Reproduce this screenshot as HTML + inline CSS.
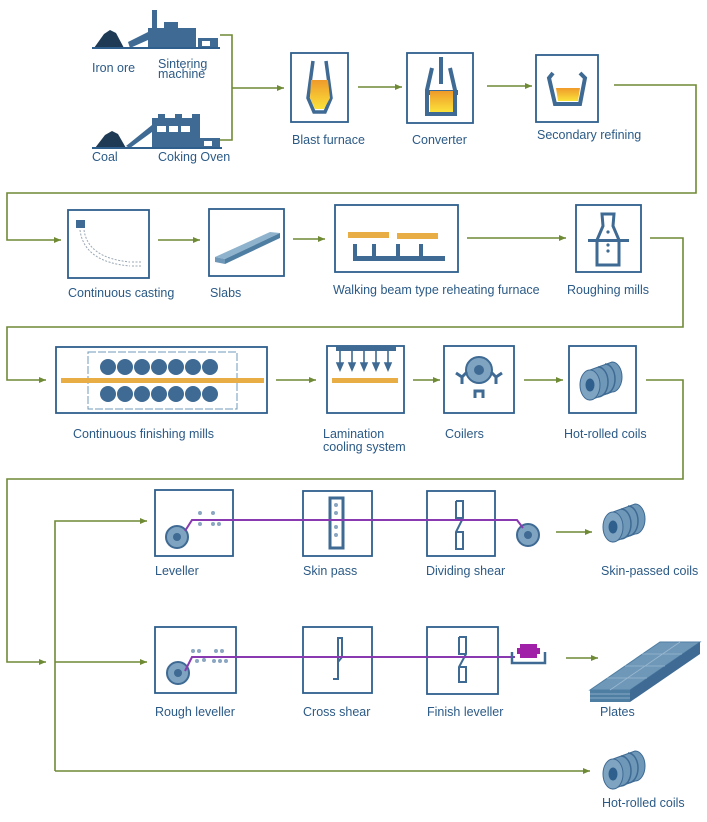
<!DOCTYPE html>
<html><head><meta charset="utf-8"><style>
html,body{margin:0;padding:0;background:#fff;}
svg{display:block;}
text{font-family:"Liberation Sans",sans-serif;font-size:12.5px;fill:#2b5a86;}
</style></head><body>
<svg width="707" height="822" viewBox="0 0 707 822" xmlns="http://www.w3.org/2000/svg">
<defs>
<marker id="a" markerWidth="8" markerHeight="8" refX="7" refY="4" orient="auto" markerUnits="userSpaceOnUse"><path d="M0,1 L7,4 L0,7 z" fill="#6f8a35"/></marker>
<linearGradient id="mol" x1="0" y1="0" x2="0" y2="1"><stop offset="0" stop-color="#ef9a2a"/><stop offset="1" stop-color="#fbe23a"/></linearGradient>
</defs>
<g fill="none" stroke="#6f8a35" stroke-width="1.6">
<path d="M220,35 H232 V140 H220"/>
<path d="M232,88 H284" marker-end="url(#a)"/>
<path d="M358,87 H402" marker-end="url(#a)"/>
<path d="M487,86 H532" marker-end="url(#a)"/>
<path d="M614,85 H696 V193 H7 V240 H61" marker-end="url(#a)"/>
<path d="M158,240 H200" marker-end="url(#a)"/>
<path d="M293,239 H325" marker-end="url(#a)"/>
<path d="M467,238 H566" marker-end="url(#a)"/>
<path d="M650,238 H683 V327 H7 V380 H46" marker-end="url(#a)"/>
<path d="M276,380 H316" marker-end="url(#a)"/>
<path d="M413,380 H440" marker-end="url(#a)"/>
<path d="M524,380 H563" marker-end="url(#a)"/>
<path d="M646,380 H683 V479 H7 V662 H46" marker-end="url(#a)"/>
<path d="M55,771 V521 H147" marker-end="url(#a)"/>
<path d="M55,662 H147" marker-end="url(#a)"/>
<path d="M55,771 H590" marker-end="url(#a)"/>
<path d="M556,532 H592" marker-end="url(#a)"/>
<path d="M566,658 H598" marker-end="url(#a)"/>
</g>
<g fill="#fff" stroke="#2f5f8c" stroke-width="1.8">
<rect x="291" y="53" width="57" height="69"/>
<rect x="407" y="53" width="66" height="70"/>
<rect x="536" y="55" width="62" height="67"/>
<rect x="68" y="210" width="81" height="68"/>
<rect x="209" y="209" width="75" height="67"/>
<rect x="335" y="205" width="123" height="67"/>
<rect x="576" y="205" width="65" height="67"/>
<rect x="56" y="347" width="211" height="66"/>
<rect x="327" y="346" width="77" height="67"/>
<rect x="444" y="346" width="70" height="67"/>
<rect x="569" y="346" width="67" height="67"/>
<rect x="155" y="490" width="78" height="66"/>
<rect x="303" y="491" width="69" height="65"/>
<rect x="427" y="491" width="68" height="65"/>
<rect x="155" y="627" width="81" height="66"/>
<rect x="303" y="627" width="69" height="66"/>
<rect x="427" y="627" width="71" height="67"/>
</g>
<g fill="#1f3a55">
<path d="M94,48 L104,34 L110,30 L116,33 L124,48 z"/>
<path d="M95,148 L105,135 L112,131 L118,134 L126,148 z"/>
</g>
<g fill="#3e6a93">
<path d="M148,48 V28 H152 V10 H157 V28 H164 V22 H178 V28 H196 V48 z"/>
<rect x="198" y="38" width="20" height="10"/>
<path d="M128,42 L148,32 V40 L130,48 z"/>
<path d="M152,148 V118 H158 V114 H165 V118 H175 V114 H182 V118 H192 V114 H200 V148 z"/>
<rect x="200" y="138" width="20" height="10"/>
<path d="M126,146 L152,125 V132 L130,148 z"/>
</g>
<rect x="92" y="47" width="128" height="2" fill="#2f5f8c"/>
<rect x="92" y="147" width="130" height="2" fill="#2f5f8c"/>
<g fill="#fff"><rect x="157" y="126" width="9" height="6"/><rect x="169" y="126" width="9" height="6"/><rect x="181" y="126" width="9" height="6"/><rect x="204" y="141" width="8" height="5"/><rect x="202" y="41" width="8" height="5"/></g>
<!-- blast furnace -->
<path d="M313,61 L308,98 L314,112 H325 L331,98 L326,61" fill="none" stroke="#3e6a93" stroke-width="3.5"/>
<path d="M311,80 H328 L330,98 L324,109 H315 L310,98 z" fill="url(#mol)"/>
<!-- converter -->
<rect x="439" y="57" width="4" height="27" fill="#3e6a93"/>
<path d="M432,68 L427,90 V114 H455 V90 L450,68" fill="none" stroke="#3e6a93" stroke-width="4"/>
<rect x="425" y="90" width="33" height="5" fill="#3e6a93"/>
<rect x="430" y="91" width="23" height="21" fill="url(#mol)"/>
<!-- secondary -->
<path d="M553,73 L549,78 L555,104 H580 L585,78 L580,73" fill="none" stroke="#3e6a93" stroke-width="4"/>
<path d="M556,88 H580 L578,101 H558 z" fill="url(#mol)"/>
<!-- continuous casting -->
<rect x="76" y="220" width="9" height="8" fill="#3e6a93"/>
<path d="M80,230 Q84,262 130,266 M84,230 Q88,258 130,262 M141,262 H131 M141,266 H131" fill="none" stroke="#9aa7b3" stroke-width="1" stroke-dasharray="2,1.5"/>
<!-- slab -->
<path d="M215,257 L270,232 L280,233 L225,259 z" fill="#8fb3cc"/>
<path d="M215,257 L225,259 V264 L215,262 z" fill="#6f98b8"/>
<path d="M225,259 L280,233 V238 L225,264 z" fill="#4f7ea3"/>
<!-- walking beam -->
<rect x="348" y="232" width="41" height="6" fill="#e9ad45"/>
<rect x="397" y="233" width="41" height="6" fill="#e9ad45"/>
<path d="M355,244 V258 M374,244 V258 M398,244 V258 M421,244 V258" stroke="#3e6a93" stroke-width="4"/>
<rect x="353" y="256" width="92" height="5" fill="#3e6a93"/>
<!-- roughing -->
<path d="M602,214 H614 L613,226 L619,240 L619,265 H597 L597,240 L603,226 z" fill="none" stroke="#3e6a93" stroke-width="3"/>
<rect x="588" y="239" width="41" height="3" fill="#3e6a93"/>
<g fill="#3e6a93"><circle cx="608" cy="232" r="1.6"/><circle cx="608" cy="245" r="1.6"/><circle cx="608" cy="251" r="1.6"/></g>
<!-- finishing mills -->
<rect x="88" y="352" width="149" height="57" fill="none" stroke="#6f98b8" stroke-width="1" stroke-dasharray="8,2"/>
<rect x="61" y="378" width="203" height="5" fill="#e9ad45"/>
<g fill="#3e6a93">
<circle cx="108" cy="367" r="8"/><circle cx="125" cy="367" r="8"/><circle cx="142" cy="367" r="8"/><circle cx="159" cy="367" r="8"/><circle cx="176" cy="367" r="8"/><circle cx="193" cy="367" r="8"/><circle cx="210" cy="367" r="8"/>
<circle cx="108" cy="394" r="8"/><circle cx="125" cy="394" r="8"/><circle cx="142" cy="394" r="8"/><circle cx="159" cy="394" r="8"/><circle cx="176" cy="394" r="8"/><circle cx="193" cy="394" r="8"/><circle cx="210" cy="394" r="8"/>
</g>
<!-- lamination -->
<rect x="336" y="346" width="60" height="5" fill="#3e6a93"/>
<g stroke="#3e6a93" stroke-width="1.6" fill="#3e6a93">
<path d="M340,351 V366"/><path d="M352,351 V366"/><path d="M364,351 V366"/><path d="M376,351 V366"/><path d="M388,351 V366"/>
<path d="M337,363 L340,370 L343,363z M349,363 L352,370 L355,363z M361,363 L364,370 L367,363z M373,363 L376,370 L379,363z M385,363 L388,370 L391,363z"/>
</g>
<rect x="332" y="378" width="66" height="5" fill="#e9ad45"/>
<!-- coilers -->
<circle cx="479" cy="370" r="13" fill="#7fa4c2" stroke="#3e6a93" stroke-width="2"/>
<circle cx="479" cy="370" r="5" fill="#3e6a93"/>
<path d="M456,373 L462,377 V384 M462,377 L467,372 M502,373 L496,377 V384 M496,377 L491,372 M475,398 V391 H483 V398" fill="none" stroke="#3e6a93" stroke-width="3"/>
<!-- coil symbol -->
<g id="coil">
<path d="M590,370 L612,362 A10,15 0 0 1 612,392 L590,400 z" fill="#6f98b8" stroke="#3e6a93"/>
<path d="M598,367 A10,15 0 0 1 598,397 M605,364 A10,15 0 0 1 605,394" fill="none" stroke="#3e6a93" stroke-width="1.5"/>
<ellipse cx="590" cy="385" rx="10" ry="15" fill="#7fa4c2" stroke="#3e6a93"/>
<ellipse cx="590" cy="385" rx="4.5" ry="6.5" fill="#2f5f8c"/>
</g>
<use href="#coil" transform="translate(23,142)"/>
<use href="#coil" transform="translate(23,389)"/>
<!-- leveller -->
<circle cx="177" cy="537" r="11" fill="#7fa4c2" stroke="#3e6a93" stroke-width="2"/><circle cx="177" cy="537" r="4" fill="#3e6a93"/>
<circle cx="528" cy="535" r="11" fill="#7fa4c2" stroke="#3e6a93" stroke-width="2"/><circle cx="528" cy="535" r="4" fill="#3e6a93"/>
<g fill="#8aa6c1"><circle cx="200" cy="513" r="2"/><circle cx="200" cy="524" r="2"/><circle cx="213" cy="513" r="2"/><circle cx="213" cy="524" r="2"/><circle cx="219" cy="524" r="2"/></g>
<rect x="330" y="498" width="13" height="50" fill="none" stroke="#3e6a93" stroke-width="3"/>
<g fill="#8aa6c1"><circle cx="336" cy="505" r="2"/><circle cx="336" cy="513" r="2"/><circle cx="336" cy="527" r="2"/><circle cx="336" cy="535" r="2"/></g>
<path d="M456,501 H463 V518 L456,532 V549 H463 V532 L456,532 M456,501 V518 L463,518" fill="none" stroke="#3e6a93" stroke-width="2"/>
<path d="M185,531 L192,520 H517 L523,528" fill="none" stroke="#8a3ab0" stroke-width="2"/>
<!-- rough leveller -->
<circle cx="178" cy="673" r="11" fill="#7fa4c2" stroke="#3e6a93" stroke-width="2"/><circle cx="178" cy="673" r="4" fill="#3e6a93"/>
<g fill="#8aa6c1"><circle cx="193" cy="651" r="2"/><circle cx="199" cy="651" r="2"/><circle cx="197" cy="661" r="2"/><circle cx="204" cy="660" r="2"/><circle cx="216" cy="651" r="2"/><circle cx="222" cy="651" r="2"/><circle cx="214" cy="661" r="2"/><circle cx="220" cy="661" r="2"/><circle cx="226" cy="661" r="2"/></g>
<path d="M333,679 H338 V638 H342 V657 L338,662" fill="none" stroke="#3e6a93" stroke-width="2"/>
<path d="M459,637 H466 V654 L459,667 V682 H466 V667 L459,667 M459,637 V654 L466,654" fill="none" stroke="#3e6a93" stroke-width="2"/>
<path d="M185,671 L192,657 H515" fill="none" stroke="#8a3ab0" stroke-width="2"/>
<path d="M512,652 V663 H545 V652" fill="none" stroke="#3e6a93" stroke-width="2.5"/>
<rect x="520" y="644" width="17" height="14" fill="#a020a8"/>
<rect x="517" y="648" width="23" height="6" fill="#a020a8"/>
<!-- plates -->
<path d="M590,690 L660,642 H700 L630,690 z" fill="#6f98b8" stroke="#4f7ea3"/>
<path d="M590,690 H630 V702 H590 z" fill="#4f7ea3"/>
<path d="M630,690 L700,642 V654 L630,702 z" fill="#3e6a93"/>
<path d="M607,678 H647 M625,666 H665 M642,654 H682 M610,690 L680,642 M590,694 H630 M590,698 H630" stroke="#9ab8d0" stroke-width="0.8" fill="none"/>
<!-- labels -->
<text x="92" y="72">Iron ore</text>
<text x="158" y="68">Sintering</text>
<text x="158" y="78">machine</text>
<text x="92" y="161">Coal</text>
<text x="158" y="161">Coking Oven</text>
<text x="292" y="144">Blast furnace</text>
<text x="412" y="144">Converter</text>
<text x="537" y="139">Secondary refining</text>
<text x="68" y="297">Continuous casting</text>
<text x="210" y="297">Slabs</text>
<text x="333" y="294">Walking beam type reheating furnace</text>
<text x="567" y="294">Roughing mills</text>
<text x="73" y="438">Continuous finishing mills</text>
<text x="323" y="438">Lamination</text>
<text x="323" y="451">cooling system</text>
<text x="445" y="438">Coilers</text>
<text x="564" y="438">Hot-rolled coils</text>
<text x="155" y="575">Leveller</text>
<text x="303" y="575">Skin pass</text>
<text x="426" y="575">Dividing shear</text>
<text x="601" y="575">Skin-passed coils</text>
<text x="155" y="716">Rough leveller</text>
<text x="303" y="716">Cross shear</text>
<text x="427" y="716">Finish leveller</text>
<text x="600" y="716">Plates</text>
<text x="602" y="807">Hot-rolled coils</text>
</svg>
</body></html>
